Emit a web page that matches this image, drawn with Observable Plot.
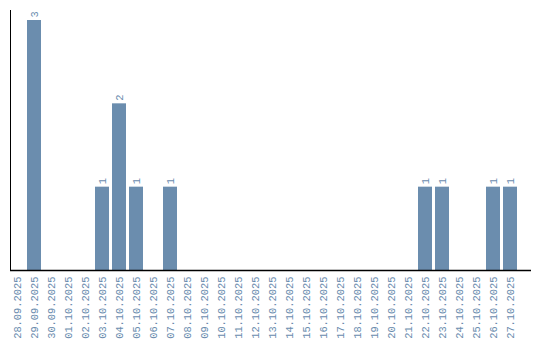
<!DOCTYPE html>
<html>
<head>
<meta charset="utf-8">
<script src="https://cdn.jsdelivr.net/npm/d3@7"></script>
<script src="https://cdn.jsdelivr.net/npm/@observablehq/plot@0.6"></script>
<style>
  html, body { margin: 0; padding: 0; background: #fff; }
  svg { display: block; }
</style>
</head>
<body>
<div id="chart"></div>
<script>
const dates = ["28.09.2025","29.09.2025","30.09.2025","01.10.2025","02.10.2025","03.10.2025","04.10.2025","05.10.2025","06.10.2025","07.10.2025","08.10.2025","09.10.2025","10.10.2025","11.10.2025","12.10.2025","13.10.2025","14.10.2025","15.10.2025","16.10.2025","17.10.2025","18.10.2025","19.10.2025","20.10.2025","21.10.2025","22.10.2025","23.10.2025","24.10.2025","25.10.2025","26.10.2025","27.10.2025"];
const counts = [0,3,0,0,0,1,2,1,0,1,0,0,0,0,0,0,0,0,0,0,0,0,0,0,1,1,0,0,1,1];

const data = dates.map((d, i) => ({date: d, count: counts[i]}));
const nonZero = data.filter(d => d.count > 0);

const barColor = "#6b8dae";
const textColor = "#6a8cae";
const font = "'Liberation Mono', monospace";

const chart = Plot.plot({
  width: 540,
  height: 340,
  marginTop: 10,
  marginLeft: 10,
  marginRight: 9,
  marginBottom: 70,
  style: {fontFamily: font, fontSize: "10.4px", color: "#000", background: "#fff"},
  x: {domain: dates, range: [10, 517], paddingInner: 0.1765, paddingOuter: 0, label: null},
  y: {domain: [0, 3.12], label: null, ticks: [], tickSize: 0, line: true},
  marks: [
    Plot.barY(data, {x: "date", y: "count", fill: barColor}),
    Plot.text(nonZero, {x: "date", y: "count", text: d => String(d.count), rotate: -90, textAnchor: "start", dy: -3, fill: textColor, fontSize: 10.4}),
    Plot.axisX({tickSize: 0, tickPadding: 6, tickRotate: -90, fill: textColor, label: null}),
    Plot.ruleY([0], {stroke: "#000", strokeWidth: 1.5})
  ]
});
document.getElementById("chart").appendChild(chart);
</script>
</body>
</html>
